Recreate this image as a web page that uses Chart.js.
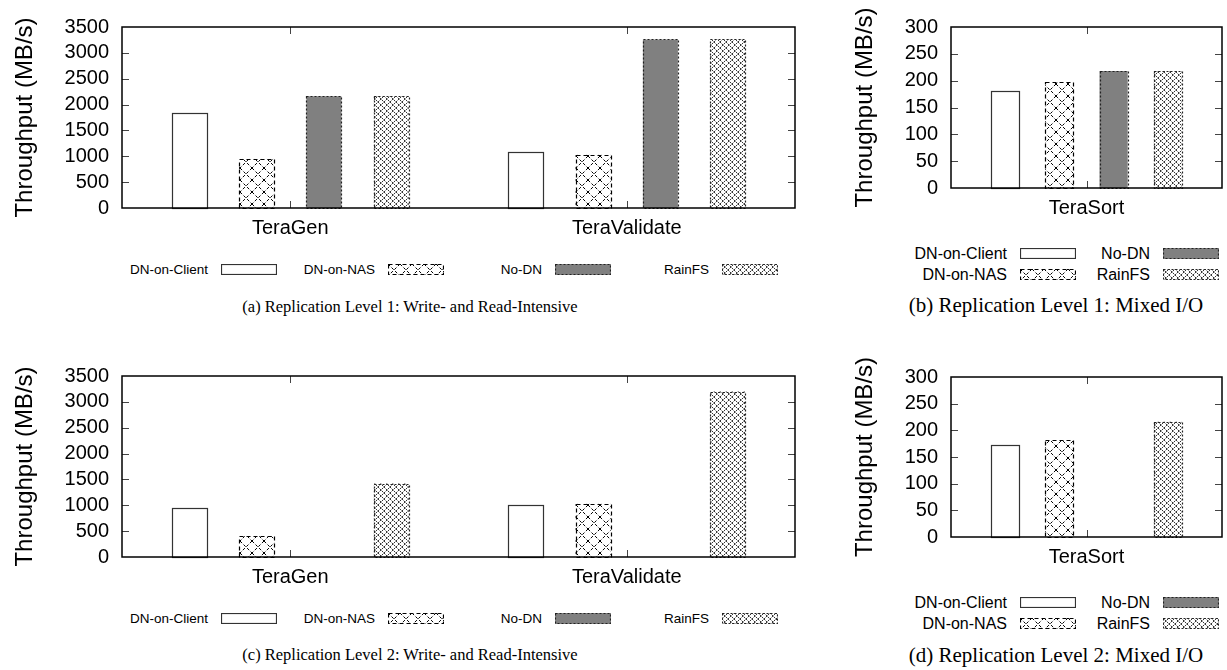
<!DOCTYPE html>
<html lang="en">
<head>
<meta charset="UTF-8">
<title>Throughput by HDFS data node placement</title>
<script src="https://cdn.jsdelivr.net/npm/chart.js"></script>
<style>
  body { margin: 0; background: #fff; width: 1227px; height: 670px; position: relative; overflow: hidden;
         font-family: "Liberation Sans", Arial, sans-serif; color: #000; }
  .panel { position: absolute; }
  .legend { position: absolute; display: grid; }
  .legend .item { display: flex; justify-content: flex-end; align-items: center; white-space: nowrap; }
  .legend canvas { margin-left: 13px; display: block; }
  .caption { position: absolute; font-family: "Liberation Serif", "Times New Roman", serif;
             white-space: nowrap; transform: translateX(-50%); }
</style>
</head>
<body>

<div class="panel" style="left:0;top:0"><canvas id="rep1" width="800" height="245"></canvas></div>
<div class="panel" style="left:840px;top:0"><canvas id="rep1mix" width="387" height="225"></canvas></div>
<div class="panel" style="left:0;top:349px"><canvas id="rep2" width="800" height="245"></canvas></div>
<div class="panel" style="left:840px;top:350px"><canvas id="rep2mix" width="387" height="224"></canvas></div>

<div class="legend" id="legend1" style="left:110px;top:262px;grid-template-columns:repeat(4,167px);font-size:13.5px"></div>
<div class="legend" id="legend1mix" style="left:933px;top:243px;grid-template-columns:repeat(2,143px);grid-auto-rows:21px;font-size:16px"></div>
<div class="legend" id="legend2" style="left:110px;top:611px;grid-template-columns:repeat(4,167px);font-size:13.5px"></div>
<div class="legend" id="legend2mix" style="left:933px;top:592px;grid-template-columns:repeat(2,143px);grid-auto-rows:21px;font-size:16px"></div>

<div class="caption" style="left:410px;top:297px;font-size:16.5px">(a) Replication Level 1: Write- and Read-Intensive</div>
<div class="caption" style="left:1056px;top:293px;font-size:21px">(b) Replication Level 1: Mixed I/O</div>
<div class="caption" style="left:410px;top:645px;font-size:16.5px">(c) Replication Level 2: Write- and Read-Intensive</div>
<div class="caption" style="left:1056px;top:643px;font-size:21px">(d) Replication Level 2: Mixed I/O</div>

<script>
    // series and categories
    const seriesNames = ['DN-on-Client', 'DN-on-NAS', 'No-DN', 'RainFS'];
    const writeReadJobs = ['TeraGen', 'TeraValidate'];
    const mixedJobs = ['TeraSort'];

    // y tick labels (MB/s)
    const ticksWriteRead = [0, 500, 1000, 1500, 2000, 2500, 3000, 3500];
    const ticksMixed = [0, 50, 100, 150, 200, 250, 300];

    // replication level 1
    const rep1Client = [1830, 1080];
    const rep1Nas = [950, 1030];
    const rep1NoDn = [2160, 3260];
    const rep1Rain = [2160, 3260];
    const rep1MixClient = [180];
    const rep1MixNas = [197];
    const rep1MixNoDn = [218];
    const rep1MixRain = [218];

    // replication level 2
    const rep2Client = [950, 1000];
    const rep2Nas = [400, 1030];
    const rep2NoDn = [0, 0];
    const rep2Rain = [1420, 3200];
    const rep2MixClient = [173];
    const rep2MixNas = [182];
    const rep2MixNoDn = [0];
    const rep2MixRain = [216];

    Chart.defaults.font.family = '"Liberation Sans", Arial, sans-serif';

    // gnuplot-ish fill patterns
    function crossPattern() {
        const c = document.createElement('canvas');
        c.width = 12; c.height = 12;
        const g = c.getContext('2d');
        g.fillStyle = '#fff';
        g.fillRect(0, 0, 12, 12);
        g.strokeStyle = '#000';
        g.lineWidth = 1;
        g.setLineDash([3, 2]);
        g.beginPath();
        g.moveTo(0, 0); g.lineTo(12, 12);
        g.moveTo(12, 0); g.lineTo(0, 12);
        g.stroke();
        return g.createPattern(c, 'repeat');
    }

    function dotPattern() {
        const c = document.createElement('canvas');
        c.width = 6; c.height = 6;
        const g = c.getContext('2d');
        g.fillStyle = '#fff';
        g.fillRect(0, 0, 6, 6);
        for (let i = 0; i < 6; i++) {
            g.fillStyle = i % 2 ? '#aaa' : '#333';
            g.fillRect(i, i, 1, 1);
            g.fillStyle = i % 2 ? '#333' : '#aaa';
            g.fillRect(5 - i, i, 1, 1);
        }
        return g.createPattern(c, 'repeat');
    }

    const seriesStyles = [
        { fill: '#fff', border: '#333', dash: [] },
        { fill: crossPattern(), border: '#000', dash: [4, 3] },
        { fill: '#808080', border: '#222', dash: [2, 2] },
        { fill: dotPattern(), border: '#222', dash: [2, 2] }
    ];

    // bar borders with dashes (bar elements have no borderDash)
    const barOutline = {
        id: 'barOutline',
        afterDatasetsDraw(chart) {
            const ctx = chart.ctx;
            chart.data.datasets.forEach((ds, i) => {
                const st = seriesStyles[i];
                chart.getDatasetMeta(i).data.forEach(bar => {
                    const p = bar.getProps(['x', 'y', 'base', 'width'], true);
                    if (Math.abs(p.base - p.y) < 1) return;
                    ctx.save();
                    ctx.strokeStyle = st.border;
                    ctx.lineWidth = 1.2;
                    ctx.setLineDash(st.dash);
                    ctx.strokeRect(Math.round(p.x - p.width / 2) + 0.5, Math.round(p.y) + 0.5,
                                   Math.round(p.width), Math.round(p.base - p.y));
                    ctx.restore();
                });
            });
        }
    };

    // border box and inward ticks
    const frame = {
        id: 'frame',
        afterDraw(chart) {
            const { ctx, chartArea: a, scales } = chart;
            ctx.save();
            ctx.lineWidth = 1;
            ctx.strokeStyle = '#444';
            ctx.beginPath();
            scales.y.ticks.forEach(t => {
                const py = Math.round(scales.y.getPixelForValue(t.value)) + 0.5;
                if (py <= a.top + 2 || py >= a.bottom - 2) return;
                ctx.moveTo(a.left, py); ctx.lineTo(a.left + 7, py);
                ctx.moveTo(a.right, py); ctx.lineTo(a.right - 7, py);
            });
            chart.data.labels.forEach((l, i) => {
                const px = Math.round(scales.x.getPixelForValue(i)) + 0.5;
                ctx.moveTo(px, a.bottom); ctx.lineTo(px, a.bottom - 7);
                ctx.moveTo(px, a.top); ctx.lineTo(px, a.top + 7);
            });
            ctx.stroke();
            ctx.strokeStyle = '#000';
            ctx.lineWidth = 1.5;
            ctx.strokeRect(a.left, a.top, a.right - a.left, a.bottom - a.top);
            ctx.restore();
        }
    };

    function makeChart(id, labels, seriesValues, yTicks, axisWidth) {
        return new Chart(document.getElementById(id), {
            type: 'bar',
            data: {
                labels: labels,
                datasets: seriesValues.map((vals, i) => ({
                    label: seriesNames[i],
                    data: vals,
                    backgroundColor: seriesStyles[i].fill,
                    borderWidth: 0,
                    categoryPercentage: 0.8,
                    barPercentage: 0.52
                }))
            },
            options: {
                responsive: false,
                animation: false,
                events: [],
                layout: { padding: { top: 27, right: 5, left: 0, bottom: 0 } },
                plugins: { legend: { display: false }, tooltip: { enabled: false } },
                scales: {
                    x: {
                        grid: { display: false, drawTicks: false },
                        border: { display: false },
                        ticks: { color: '#000', font: { size: 20 }, padding: 8, maxRotation: 0 },
                        afterFit: s => { s.height = 37; }
                    },
                    y: {
                        min: yTicks[0],
                        max: yTicks[yTicks.length - 1],
                        grid: { display: false, drawTicks: false },
                        border: { display: false },
                        afterBuildTicks: s => { s.ticks = yTicks.map(v => ({ value: v })); },
                        ticks: {
                            color: '#000',
                            font: { size: 20 },
                            padding: 13,
                            autoSkip: false,
                            callback: v => String(v)
                        },
                        title: {
                            display: true,
                            text: 'Throughput (MB/s)',
                            color: '#000',
                            font: { size: 24 },
                            padding: { top: 11, bottom: 0 }
                        },
                        afterFit: s => { s.width = axisWidth; }
                    }
                }
            },
            plugins: [barOutline, frame]
        });
    }

    function buildLegend(id, order) {
        const el = document.getElementById(id);
        order.forEach(i => {
            const item = document.createElement('div');
            item.className = 'item';
            const txt = document.createElement('span');
            txt.textContent = seriesNames[i];
            const sw = document.createElement('canvas');
            sw.width = 56; sw.height = 11;
            const g = sw.getContext('2d');
            const st = seriesStyles[i];
            g.fillStyle = st.fill;
            g.fillRect(0, 0, 56, 11);
            g.strokeStyle = st.border;
            g.lineWidth = 1.2;
            g.setLineDash(st.dash);
            g.strokeRect(0.5, 0.5, 55, 10);
            item.appendChild(txt);
            item.appendChild(sw);
            el.appendChild(item);
        });
    }

    makeChart('rep1', writeReadJobs, [rep1Client, rep1Nas, rep1NoDn, rep1Rain], ticksWriteRead, 122);
    makeChart('rep1mix', mixedJobs, [rep1MixClient, rep1MixNas, rep1MixNoDn, rep1MixRain], ticksMixed, 111);
    makeChart('rep2', writeReadJobs, [rep2Client, rep2Nas, rep2NoDn, rep2Rain], ticksWriteRead, 122);
    makeChart('rep2mix', mixedJobs, [rep2MixClient, rep2MixNas, rep2MixNoDn, rep2MixRain], ticksMixed, 111);

    buildLegend('legend1', [0, 1, 2, 3]);
    buildLegend('legend1mix', [0, 2, 1, 3]);
    buildLegend('legend2', [0, 1, 2, 3]);
    buildLegend('legend2mix', [0, 2, 1, 3]);
</script>
</body>
</html>
